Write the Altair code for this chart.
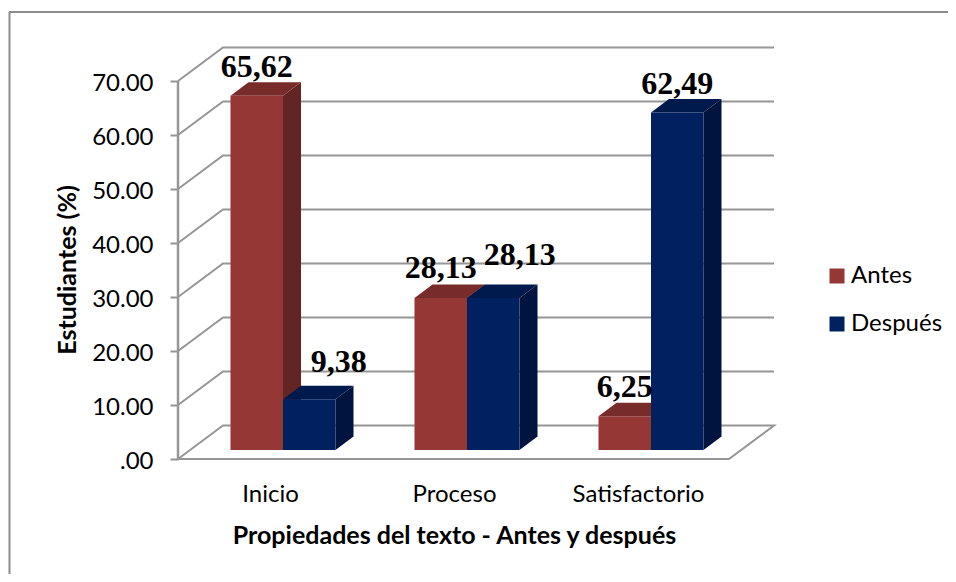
import json
import altair as alt
import pandas as pd

categories = ["Inicio", "Proceso", "Satisfactorio"]
series = ["Antes", "Después"]
antes = [65.62, 28.13, 6.25]
despues = [9.38, 28.13, 62.49]
y_ticks = [0, 10, 20, 30, 40, 50, 60, 70]

# layout, in category widths (x) and percentage points (y)
PX_X, PX_Y = 184.0, 5.4
W, H = 940, 566
ZERO_X, ZERO_Y = 283.0, 459.0      # page position of x=0, y=0
def ux(px): return (px - ZERO_X) / PX_X
def uy(px): return (ZERO_Y - px) / PX_Y
X_DOM = [ux(8), ux(948)]
Y_DOM = [uy(574), uy(8)]
AX_L, AX_R = ux(178), ux(729)
WALL_DX, WALL_DY = 45 / PX_X, 33.5 / PX_Y
BAR_W = 52.5 / PX_X
BAR_DX, BAR_DY = 18 / PX_X, 13.5 / PX_Y
BASE = uy(450)
LABEL_OFF_X = {"Antes": [0, 0, 0], "Después": [29.5, 26.5, 0]}
LABEL_OFF_Y = {"Antes": [19, 20, 19], "Después": [27, 33, 19]}
CAT_LABEL_SHIFT = 13 / PX_X

GRID = "#969696"
FONT = "Lato"
front = ["#953735", "#002060"]
top_c = ["#772c2a", "#001a4d"]
side_c = ["#632523", "#001440"]

front_rows, top_rows, side_rows, label_rows = [], [], [], []
for s, (name, vals) in enumerate(zip(series, (antes, despues))):
    for c, v in enumerate(vals):
        x0 = c + (s - 1) * BAR_W
        x1 = x0 + BAR_W
        t = BASE + v
        bid = f"{s}-{c}"
        front_rows.append(dict(x=x0, x2=x1, y=BASE, y2=t, Serie=name))
        for xp, a, b in [(x0, t, t), (x0 + BAR_DX, t, t + BAR_DY), (x1, t, t + BAR_DY), (x1 + BAR_DX, t + BAR_DY, t + BAR_DY)]:
            top_rows.append(dict(x=xp, y=a, y2=b, bar=bid, s=s))
        for xp, a, b in [(x1, BASE, t), (x1 + BAR_DX, BASE + BAR_DY, t + BAR_DY)]:
            side_rows.append(dict(x=xp, y=a, y2=b, bar=bid, s=s))
        label_rows.append(dict(x=(x0 + x1) / 2 + LABEL_OFF_X[name][c] / PX_X,
                               y=t + LABEL_OFF_Y[name][c] / PX_Y,
                               t=f"{v:.2f}".replace(".", ",")))

grid_rows = []
for g in y_ticks[1:]:
    for i, (xp, yp) in enumerate([(AX_L, g), (AX_L + WALL_DX, g + WALL_DY), (ux(774), g + WALL_DY)]):
        grid_rows.append(dict(x=xp, y=yp, g=g, o=i))
floor = [(AX_L, 0), (AX_L + WALL_DX, WALL_DY), (ux(774), WALL_DY), (AX_R, 0), (AX_L, 0)]
for i, (xp, yp) in enumerate(floor):
    grid_rows.append(dict(x=xp, y=yp, g=0, o=i))
axis_rows = [dict(x=AX_L, y=0, g=-1, o=0), dict(x=AX_L, y=70, g=-1, o=1)]

x_axis = alt.Axis(
    orient="bottom", offset=-(574 - ZERO_Y),
    values=[i - CAT_LABEL_SHIFT for i in range(3)],
    labelExpr=f"{json.dumps(categories)}[round(datum.value + {CAT_LABEL_SHIFT})]",
    ticks=False, domain=False, grid=False, labelPadding=23,
    labelFont=FONT, labelFontSize=24, labelColor="#000000",
    title="Propiedades del texto - Antes y después",
    titleFont=FONT, titleFontSize=25, titleFontWeight="bold", titleColor="#000000",
    titleX=454 - 8, titleY=84, titleAlign="center", titleBaseline="alphabetic",
)
y_axis = alt.Axis(
    orient="left", offset=-170,
    values=y_ticks,
    labelExpr="datum.value == 0 ? '.00' : format(datum.value, '.2f')",
    tickSize=8, tickColor=GRID, tickWidth=2, domain=False, grid=False, labelPadding=17, labelOffset=2,
    labelFont=FONT, labelFontSize=24, labelColor="#000000",
    title="Estudiantes (%)",
    titleFont=FONT, titleFontSize=25, titleFontWeight="bold", titleColor="#000000",
    titleX=-103, titleY=261.5, titleAlign="center", titleBaseline="alphabetic", titleAngle=270,
)

def X():
    return alt.X("x:Q", scale=alt.Scale(domain=X_DOM, nice=False, zero=False), axis=x_axis)
def Y():
    return alt.Y("y:Q", scale=alt.Scale(domain=Y_DOM, nice=False, zero=False), axis=y_axis, stack=False)

axes_layer = alt.Chart(pd.DataFrame(grid_rows)).mark_line(color=GRID, strokeWidth=2).encode(
    x=X(), y=Y(), detail="g:N", order="o:Q")
axis_line = alt.Chart(pd.DataFrame(axis_rows)).mark_line(color=GRID, strokeWidth=2.5).encode(
    x=X(), y=Y(), order="o:Q")

def faces(rows, s, color):
    return alt.Chart(pd.DataFrame([r for r in rows if r["s"] == s])).mark_area(color=color, orient="vertical", interpolate="linear").encode(
        x=X(), y=Y(), y2="y2:Q", detail="bar:N")

front_layer = alt.Chart(pd.DataFrame(front_rows)).mark_rect().encode(
    x=X(), x2="x2:Q", y=Y(), y2="y2:Q",
    color=alt.Color("Serie:N", scale=alt.Scale(domain=series, range=front),
                    legend=alt.Legend(orient="none", legendX=817, legendY=256, title=None,
                                      symbolType="square", symbolSize=225, symbolStrokeWidth=0, symbolOpacity=1,
                                      labelFont=FONT, labelFontSize=24, labelColor="#000000",
                                      rowPadding=24, labelOffset=2, padding=0)),
)
label_layer = alt.Chart(pd.DataFrame(label_rows)).mark_text(
    font="Liberation Serif", fontWeight="bold", fontSize=32, color="#000000", baseline="alphabetic", align="center"
).encode(x=X(), y=Y(), text="t:N")

border_v = alt.Chart(pd.DataFrame({"a": [0]})).mark_rule(color="#8c8c8c", strokeWidth=2).encode(
    x=alt.value(1.5), y=alt.value(4), y2=alt.value(H))
border_h = alt.Chart(pd.DataFrame({"a": [0]})).mark_rule(color="#8c8c8c", strokeWidth=2).encode(
    y=alt.value(4), x=alt.value(1), x2=alt.value(W))

chart = alt.layer(
    axes_layer, axis_line,
    faces(side_rows, 0, side_c[0]), faces(top_rows, 0, top_c[0]),
    faces(side_rows, 1, side_c[1]), faces(top_rows, 1, top_c[1]),
    front_layer, label_layer, border_v, border_h,
).properties(width=W, height=H, padding=0, autosize=alt.AutoSizeParams(type="none")
).configure_view(stroke=None)

chart.save("out.html", embed_options={"renderer": "svg", "actions": False})
